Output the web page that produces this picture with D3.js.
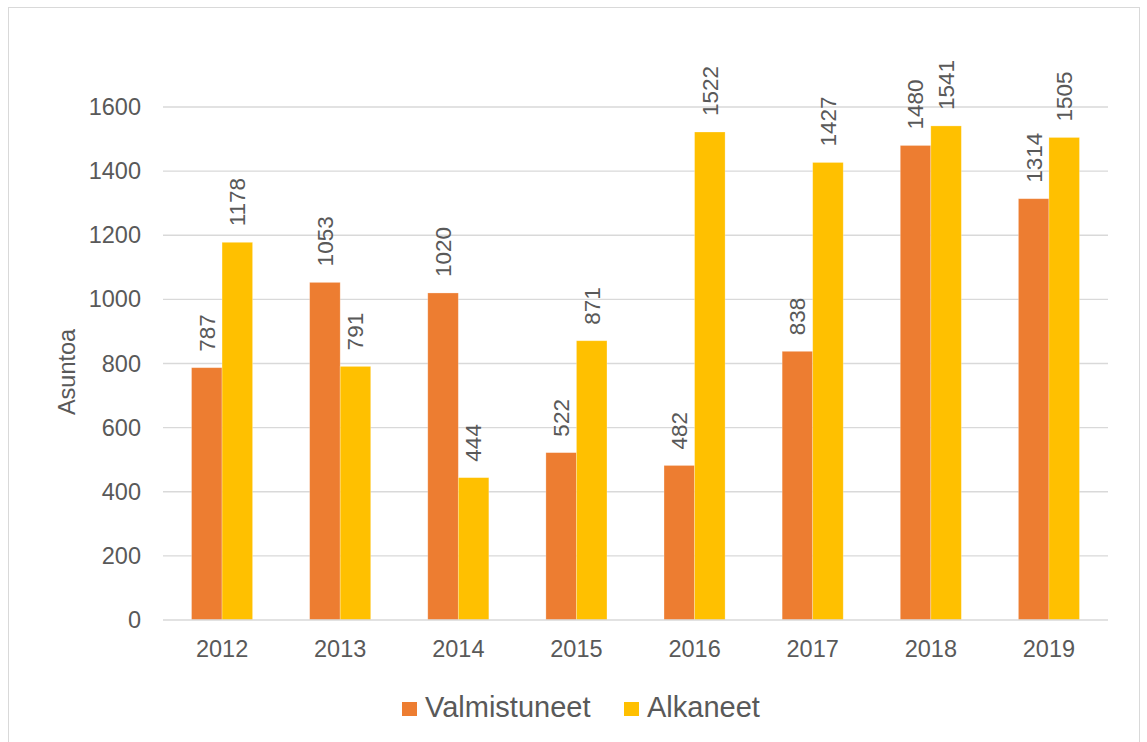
<!DOCTYPE html>
<html>
<head>
<meta charset="utf-8">
<script src="https://cdn.jsdelivr.net/npm/d3@7"></script>
<style>
  html, body { margin: 0; padding: 0; background: #fff; }
  svg { display: block; font-family: "Liberation Sans", Arial, sans-serif; }
</style>
</head>
<body>
<svg id="chart" width="1147" height="742"></svg>
<script>
// Housing units completed and started per year
const years = ["2012", "2013", "2014", "2015", "2016", "2017", "2018", "2019"];
const seriesNames = ["Valmistuneet", "Alkaneet"];
const valmistuneet = [787, 1053, 1020, 522, 482, 838, 1480, 1314];
const alkaneet = [1178, 791, 444, 871, 1522, 1427, 1541, 1505];
const yTicks = [0, 200, 400, 600, 800, 1000, 1200, 1400, 1600];
const yTitle = "Asuntoa";
const colors = ["#ED7D31", "#FFC000"];

const svg = d3.select("#chart");
const textColor = "#595959";
const gridColor = "#d9d9d9";

// Outer chart frame
svg.append("rect")
  .attr("x", 8.5).attr("y", 7.5)
  .attr("width", 1131).attr("height", 760)
  .attr("fill", "none").attr("stroke", gridColor).attr("stroke-width", 1);

const plot = { left: 163, right: 1108, top: 107, bottom: 620 };

const x0 = d3.scaleBand()
  .domain(years)
  .range([plot.left, plot.right])
  .paddingInner(0.483)
  .paddingOuter(0.2415);

const x1 = d3.scaleBand()
  .domain(seriesNames)
  .range([0, x0.bandwidth()]);

const y = d3.scaleLinear()
  .domain([0, 1600])
  .range([plot.bottom, plot.top]);

// Horizontal gridlines
svg.append("g")
  .selectAll("line")
  .data(yTicks.filter(d => d > 0))
  .join("line")
  .attr("x1", plot.left).attr("x2", plot.right)
  .attr("y1", d => y(d)).attr("y2", d => y(d))
  .attr("stroke", gridColor).attr("stroke-width", 1.3);

// Y axis labels
const yAxis = d3.axisLeft(y).tickValues(yTicks).tickFormat(d3.format("d")).tickSize(0).tickPadding(22);
const gy = svg.append("g").attr("transform", `translate(${plot.left},0)`).call(yAxis);
gy.select(".domain").remove();
gy.selectAll("text")
  .attr("fill", textColor)
  .style("font-size", "23.5px")
  .style("font-family", "'Liberation Sans', Arial, sans-serif");

// Bars
const data = years.map((yr, i) => ({ year: yr, values: [valmistuneet[i], alkaneet[i]] }));

const groups = svg.append("g")
  .selectAll("g")
  .data(data)
  .join("g")
  .attr("transform", d => `translate(${x0(d.year)},0)`);

groups.selectAll("rect")
  .data(d => d.values.map((v, j) => ({ key: seriesNames[j], value: v, idx: j })))
  .join("rect")
  .attr("x", d => x1(d.key))
  .attr("y", d => y(d.value))
  .attr("width", x1.bandwidth())
  .attr("height", d => y(0) - y(d.value))
  .attr("fill", d => colors[d.idx])
  .attr("stroke", "#ffffff")
  .attr("stroke-opacity", 0.35)
  .attr("stroke-width", 0.75);

// Rotated value labels above bars
groups.selectAll("text.val")
  .data(d => d.values.map((v, j) => ({ key: seriesNames[j], value: v })))
  .join("text")
  .attr("class", "val")
  .attr("transform", d => `translate(${x1(d.key) + x1.bandwidth() / 2},${y(d.value) - 16}) rotate(-90)`)
  .attr("dy", "0.35em")
  .attr("text-anchor", "start")
  .attr("fill", textColor)
  .style("font-size", "22.5px")
  .text(d => d.value);

// Baseline axis
svg.append("line")
  .attr("x1", plot.left).attr("x2", plot.right)
  .attr("y1", y(0)).attr("y2", y(0))
  .attr("stroke", gridColor).attr("stroke-width", 1.6);

// X axis labels
const xAxis = d3.axisBottom(x0).tickSize(0).tickPadding(0);
const gx = svg.append("g").attr("transform", `translate(0,${plot.bottom})`).call(xAxis);
gx.select(".domain").remove();
gx.selectAll("text")
  .attr("dy", null)
  .attr("y", 37)
  .attr("fill", textColor)
  .style("font-size", "23.5px")
  .style("font-family", "'Liberation Sans', Arial, sans-serif");

// Y axis title
svg.append("text")
  .attr("transform", "translate(75,372) rotate(-90)")
  .attr("text-anchor", "middle")
  .attr("fill", textColor)
  .style("font-size", "23.5px")
  .text(yTitle);

// Legend
const legendItems = [
  { name: seriesNames[0], color: colors[0], sx: 402, tx: 425 },
  { name: seriesNames[1], color: colors[1], sx: 624, tx: 647 }
];
const lg = svg.append("g");
lg.selectAll("rect")
  .data(legendItems)
  .join("rect")
  .attr("x", d => d.sx).attr("y", 702)
  .attr("width", 15).attr("height", 14)
  .attr("fill", d => d.color);
lg.selectAll("text")
  .data(legendItems)
  .join("text")
  .attr("x", d => d.tx).attr("y", 717)
  .attr("fill", textColor)
  .style("font-size", "29px")
  .text(d => d.name);
</script>
</body>
</html>
